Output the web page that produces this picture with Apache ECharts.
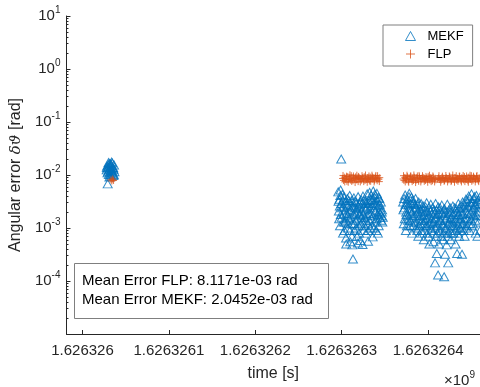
<!DOCTYPE html>
<html>
<head>
<meta charset="utf-8">
<script src="https://cdn.jsdelivr.net/npm/echarts@6/dist/echarts.min.js"></script>
<style>
  html, body { margin: 0; padding: 0; background: #fff; }
  #chart { width: 480px; height: 387px; }
</style>
</head>
<body>
<div id="chart"></div>
<script>
// time offset (s) from t0, angular error (rad)
const t0 = 1626326000
const xTicks = [0, 100, 200, 300, 400]
const yTicks = [1e-4, 1e-3, 1e-2, 1e-1, 1, 10]

const mekfSeg1 = [
  [28, 0.0125], [28.2, 0.0138], [28.5, 0.0148], [29, 0.011], [29.2, 0.0068], [29.5, 0.0135],
  [29.8, 0.0118], [30, 0.0158], [30.2, 0.0172], [30.5, 0.0102], [30.8, 0.0145], [31, 0.0128],
  [31.2, 0.0092], [31.5, 0.0165], [32, 0.0118], [32.2, 0.0105], [32.5, 0.0142], [32.8, 0.0162],
  [33, 0.0095], [33.2, 0.0132], [33.5, 0.0152], [33.8, 0.0175], [34, 0.0122], [34.2, 0.0112],
  [34.5, 0.0168], [34.8, 0.0135], [35, 0.0108], [35.5, 0.0138], [35.8, 0.0098], [36, 0.0128],
  [36.2, 0.0102], [36.5, 0.0155], [37, 0.0115]
]
const mekfSeg2 = [
  [296, 0.0048], [296.7, 0.0021], [297.4, 0.0035], [298, 0.0011], [298.7, 0.0052], [299.4, 0.020],
  [299.5, 0.0029], [300.1, 0.0016], [300.8, 0.0043], [301.5, 0.0008], [302.2, 0.0025], [302.9, 0.0038],
  [303.6, 0.0013], [304.3, 0.0031], [305, 0.00065], [305.2, 0.0005], [305.7, 0.0019], [306.4, 0.0036],
  [307.1, 0.0010], [307.8, 0.0027], [308.5, 0.0015], [309.2, 0.0041], [309.9, 0.00055], [310.6, 0.0022],
  [311.3, 0.0033], [312, 0.0012], [312.2, 0.00048], [312.7, 0.0026], [313, 0.00026], [313.4, 0.0018],
  [314.1, 0.0037], [314.8, 0.0009], [315.5, 0.0024], [316.2, 0.0014], [316.9, 0.0030], [317.6, 0.0007],
  [318.3, 0.0020], [318.8, 0.00052], [319, 0.0039], [319.7, 0.0011], [320.4, 0.0028], [321.1, 0.0017],
  [321.8, 0.00058], [322.5, 0.0034], [323.2, 0.0021], [323.9, 0.0013], [324.1, 0.00049], [324.6, 0.0040],
  [325.3, 0.0009], [326, 0.0026], [326.7, 0.0016], [327.4, 0.0032], [328.1, 0.0008], [328.8, 0.0023],
  [329.5, 0.0044], [330.2, 0.0012], [330.5, 0.00056], [330.9, 0.0029], [331.6, 0.0019], [332.3, 0.0047],
  [333, 0.0010], [333.7, 0.0035], [334.4, 0.0015], [335.1, 0.0027], [335.8, 0.00068], [336.5, 0.0050],
  [337.2, 0.0022], [337.9, 0.0038], [338.6, 0.0013], [339.3, 0.0031], [340, 0.0009], [340.7, 0.0045],
  [341.4, 0.0018], [342.1, 0.0026], [342.8, 0.0011], [343.5, 0.0036], [344.2, 0.0016], [344.9, 0.0024],
  [345.6, 0.0014], [346.3, 0.0020], [347, 0.0013]
]
const mekfSeg2b = [
  [296.3, 0.0032], [297, 0.0015], [297.8, 0.0026], [298.4, 0.0041], [299, 0.0018], [300.4, 0.0024],
  [301.2, 0.0033], [301.9, 0.0013], [302.6, 0.0019], [303.2, 0.0009], [304, 0.0022], [304.7, 0.0014],
  [306, 0.0028], [306.8, 0.0017], [307.5, 0.0012], [308.2, 0.0033], [308.9, 0.0021], [309.6, 0.0009],
  [310.3, 0.0016], [311, 0.0027], [311.7, 0.0007], [313.8, 0.0025], [314.5, 0.0012], [315.2, 0.0032],
  [315.9, 0.0019], [316.6, 0.0010], [317.3, 0.0023], [318, 0.0015], [319.4, 0.0025], [320.1, 0.0008],
  [320.8, 0.0019], [321.5, 0.0031], [322.2, 0.0012], [322.9, 0.0016], [323.6, 0.0029], [324.9, 0.0018],
  [325.7, 0.0033], [326.4, 0.0011], [327.1, 0.0022], [327.8, 0.0014], [328.5, 0.0030], [329.2, 0.0017],
  [329.9, 0.0025], [330.7, 0.0009], [331.3, 0.0033], [332, 0.0014], [332.7, 0.0024], [333.4, 0.0019],
  [334.1, 0.0041], [334.8, 0.0011], [335.5, 0.0034], [336.2, 0.0017], [336.9, 0.0029], [337.6, 0.0010],
  [338.3, 0.0043], [339, 0.0021], [339.7, 0.0027], [340.4, 0.0015], [341.1, 0.0033], [341.8, 0.0008],
  [342.5, 0.0038], [343.2, 0.0020], [343.9, 0.0028], [344.6, 0.0019], [345.3, 0.0031], [346, 0.0017],
  [346.7, 0.0022], [347.5, 0.0016]
]
const mekfSeg3 = [
  [371, 0.0031], [371.8, 0.0012], [372.6, 0.0024], [373.4, 0.0042], [374.2, 0.0009], [375, 0.0018],
  [375.8, 0.0035], [376.6, 0.0014], [377.4, 0.0027], [378.2, 0.0045], [379, 0.0011], [379.8, 0.0021],
  [380.6, 0.0038], [381.4, 0.0008], [382.2, 0.0016], [383, 0.0030], [383.8, 0.0013], [384.6, 0.0025],
  [385.4, 0.0036], [386.2, 0.0010], [387, 0.0019], [387.8, 0.0028], [388.6, 0.0007], [389.4, 0.0015],
  [390.2, 0.0023], [391, 0.0012], [391.8, 0.0029], [392.6, 0.0009], [393.4, 0.0017], [394.2, 0.0026],
  [395, 0.0006], [395.8, 0.0014], [396.6, 0.0021], [397.4, 0.0011], [398.2, 0.0030], [399, 0.0008],
  [399.8, 0.0016], [400.6, 0.0024], [401.4, 0.0005], [402.2, 0.0013], [403, 0.0028], [403.8, 0.0009],
  [404.6, 0.0019], [405.4, 0.0012], [406.2, 0.00055], [407, 0.0022], [407.8, 0.0015], [408, 0.00022],
  [408.6, 0.0029], [409.4, 0.0007], [410, 0.00033], [410.2, 0.0018], [411, 0.0011], [411.5, 0.00013],
  [411.8, 0.0025], [412.6, 0.0005], [413.4, 0.0014], [414.2, 0.0020], [415, 0.0009], [415.8, 0.0027],
  [416.6, 0.0012], [417.4, 0.0006], [418.2, 0.0017], [418.5, 0.00012], [419, 0.0023], [419.6, 0.00032],
  [419.8, 0.0010], [420.6, 0.0015], [421.4, 0.00048], [422.2, 0.0028], [423, 0.0008], [423.2, 0.00022],
  [423.8, 0.0019], [424.6, 0.0013], [425.4, 0.0024], [426.2, 0.0006], [427, 0.0016], [427.8, 0.0011],
  [428.6, 0.0026], [429.4, 0.0008], [430.2, 0.0020], [431, 0.0014], [431.8, 0.0005], [432.6, 0.0023],
  [433.4, 0.0010], [433.5, 0.00033], [434.2, 0.0017], [435, 0.0029], [435.8, 0.0007], [436.6, 0.0013],
  [437.4, 0.0021], [438.2, 0.0009], [439, 0.0018], [439.2, 0.00032], [439.8, 0.0031], [440.6, 0.0012],
  [441.4, 0.0024], [442.2, 0.0007], [443, 0.0016], [443.8, 0.0035], [444.6, 0.0011], [445.4, 0.0026],
  [446.2, 0.0019], [447, 0.0040], [447.8, 0.0009], [448.6, 0.0030], [449.4, 0.0015], [450.2, 0.0044],
  [451, 0.0022], [451.8, 0.0012], [452.6, 0.0036], [453.4, 0.0017], [454.2, 0.0028], [455, 0.0008],
  [455.8, 0.0041], [456.6, 0.0020], [457, 0.0007], [457.4, 0.0032], [458.2, 0.0013], [459, 0.0025],
  [459.8, 0.0038], [460, 0.0009]
]
const mekfSeg3b = [
  [371.4, 0.0022], [372.2, 0.0036], [373, 0.0015], [373.8, 0.0028], [374.6, 0.0020], [375.4, 0.0011],
  [376.2, 0.0030], [377, 0.0017], [377.8, 0.0039], [378.6, 0.0023], [379.4, 0.0014], [380.2, 0.0029],
  [381, 0.0019], [381.8, 0.0033], [382.6, 0.0011], [383.4, 0.0022], [384.2, 0.0017], [385, 0.0028],
  [385.8, 0.0013], [386.6, 0.0024], [387.4, 0.0009], [388.2, 0.0020], [389, 0.0031], [389.8, 0.0011],
  [390.6, 0.0017], [391.4, 0.0021], [392.2, 0.0014], [393, 0.0008], [393.8, 0.0022], [394.6, 0.0012],
  [395.4, 0.0018], [396.2, 0.0009], [397, 0.0025], [397.8, 0.0015], [398.6, 0.0011], [399.4, 0.0020],
  [400.2, 0.0007], [401, 0.0017], [401.8, 0.0012], [402.6, 0.0021], [403.4, 0.0010], [404.2, 0.0015],
  [405, 0.0024], [405.8, 0.0008], [406.6, 0.0013], [407.4, 0.0019], [408.2, 0.0010], [409, 0.0016],
  [409.8, 0.0022], [410.6, 0.0008], [411.4, 0.0013], [412.2, 0.0019], [413, 0.0009], [413.8, 0.0024],
  [414.6, 0.0014], [415.4, 0.0007], [416.2, 0.0019], [417, 0.0011], [417.8, 0.0022], [418.6, 0.0008],
  [419.4, 0.0014], [420.2, 0.0020], [421, 0.0010], [421.8, 0.0016], [422.6, 0.0007], [423.4, 0.0012],
  [424.2, 0.0022], [425, 0.0009], [425.8, 0.0015], [426.6, 0.0020], [427.4, 0.0008], [428.2, 0.0013],
  [429, 0.0018], [429.8, 0.0011], [430.6, 0.0024], [431.4, 0.0009], [432.2, 0.0015], [433, 0.0020],
  [433.8, 0.0012], [434.6, 0.0008], [435.4, 0.0018], [436.2, 0.0024], [437, 0.0010], [437.8, 0.0015],
  [438.6, 0.0026], [439.4, 0.0012], [440.2, 0.0019], [441, 0.0009], [441.8, 0.0028], [442.6, 0.0014],
  [443.4, 0.0021], [444.2, 0.0010], [445, 0.0032], [445.8, 0.0015], [446.6, 0.0024], [447.4, 0.0012],
  [448.2, 0.0036], [449, 0.0019], [449.8, 0.0027], [450.6, 0.0011], [451.4, 0.0031], [452.2, 0.0018],
  [453, 0.0024], [453.8, 0.0039], [454.6, 0.0014], [455.4, 0.0027], [456.2, 0.0017], [457.8, 0.0034],
  [458.6, 0.0021], [459.4, 0.0029]
]

const flpSeg1 = [[33, 0.0081], [34, 0.0077], [35, 0.0084], [36, 0.0079]]
const flpSeg2 = [
  [301, 0.0086], [302, 0.0079], [303, 0.0091], [304, 0.0083], [305, 0.0088], [306, 0.0076],
  [307, 0.0094], [308, 0.0082], [309, 0.0087], [310, 0.0080], [311, 0.0097], [312, 0.0084],
  [313, 0.0078], [314, 0.0089], [315, 0.0085], [316, 0.0092], [317, 0.0081], [318, 0.0087],
  [319, 0.0075], [320, 0.0090], [321, 0.0083], [322, 0.0086], [323, 0.0080], [324, 0.0088],
  [325, 0.0084], [326, 0.0093], [327, 0.0079], [328, 0.0086], [329, 0.0082], [330, 0.0089],
  [331, 0.0084], [332, 0.0077], [333, 0.0091], [334, 0.0085], [335, 0.0099], [336, 0.0083],
  [337, 0.0088], [338, 0.0080], [339, 0.0092], [340, 0.0085], [341, 0.0078], [342, 0.0087],
  [343, 0.0083], [344, 0.0089],
  [301.5, 0.0098], [303.5, 0.0074], [305.5, 0.0095], [307.5, 0.0073], [309.5, 0.0101], [311.5, 0.0076],
  [313.5, 0.0096], [315.5, 0.0072], [317.5, 0.0099], [319.5, 0.0094], [321.5, 0.0074], [323.5, 0.0097],
  [325.5, 0.0075], [327.5, 0.0100], [329.5, 0.0073], [331.5, 0.0096], [333.5, 0.0076], [335.5, 0.0092],
  [337.5, 0.0074], [339.5, 0.0098], [341.5, 0.0097], [343.5, 0.0075]
]
const flpSeg3 = [
  [371, 0.0084], [372, 0.0079], [373, 0.0090], [374, 0.0086], [375, 0.0081], [376, 0.0093],
  [377, 0.0077], [378, 0.0088], [379, 0.0083], [380, 0.0096], [381, 0.0082], [382, 0.0087],
  [383, 0.0079], [384, 0.0091], [385, 0.0085], [386, 0.0080], [387, 0.0089], [388, 0.0084],
  [389, 0.0076], [390, 0.0092], [391, 0.0086], [392, 0.0081], [393, 0.0088], [394, 0.0083],
  [395, 0.0090], [396, 0.0085], [397, 0.0079], [398, 0.0087], [399, 0.0082], [400, 0.0094],
  [401, 0.0084], [402, 0.0080], [403, 0.0089], [404, 0.0086], [405, 0.0078], [406, 0.0091],
  [407, 0.0083], [408, 0.0087], [409, 0.0081], [411, 0.0085], [412, 0.0088], [413, 0.0082],
  [414, 0.0086], [415, 0.0080], [416, 0.0090], [417, 0.0084], [418, 0.0087], [419, 0.0079],
  [420, 0.0085], [421, 0.0089], [422, 0.0083], [423, 0.0086], [424, 0.0081], [425, 0.0092],
  [426, 0.0084], [427, 0.0078], [428, 0.0088], [429, 0.0085], [430, 0.0082], [431, 0.0090],
  [432, 0.0086], [433, 0.0080], [434, 0.0087], [435, 0.0083], [436, 0.0095], [437, 0.0084],
  [438, 0.0079], [439, 0.0089], [440, 0.0085], [441, 0.0081], [442, 0.0093], [443, 0.0086],
  [444, 0.0082], [445, 0.0088], [446, 0.0078], [447, 0.0091], [448, 0.0085], [449, 0.0083],
  [450, 0.0097], [451, 0.0084], [452, 0.0080], [453, 0.0090], [454, 0.0086], [455, 0.0082],
  [456, 0.0094], [457, 0.0085], [458, 0.0079], [459, 0.0089], [460, 0.0084],
  [371.5, 0.0097], [373.5, 0.0074], [375.5, 0.0099], [377.5, 0.0073], [379.5, 0.0095], [381.5, 0.0075],
  [383.5, 0.0100], [385.5, 0.0072], [387.5, 0.0096], [389.5, 0.0098], [391.5, 0.0074], [393.5, 0.0097],
  [395.5, 0.0076], [397.5, 0.0094], [399.5, 0.0073], [401.5, 0.0099], [403.5, 0.0075], [405.5, 0.0096],
  [407.5, 0.0074], [412.5, 0.0097], [414.5, 0.0073], [416.5, 0.0095], [418.5, 0.0076], [420.5, 0.0098],
  [422.5, 0.0074], [424.5, 0.0096], [426.5, 0.0075], [428.5, 0.0100], [430.5, 0.0073], [432.5, 0.0097],
  [434.5, 0.0076], [436.5, 0.0095], [438.5, 0.0074], [440.5, 0.0098], [442.5, 0.0075], [444.5, 0.0096],
  [446.5, 0.0073], [448.5, 0.0099], [450.5, 0.0076], [452.5, 0.0095], [454.5, 0.0074], [456.5, 0.0098],
  [458.5, 0.0075]
]

const meanText = [
  'Mean Error FLP: 8.1171e-03 rad',
  'Mean Error MEKF: 2.0452e-03 rad'
]

// minor log ticks 2..9 per decade
let yMinor = []
for (let e = -5; e < 1; e++) {
  for (let k = 2; k <= 9; k++) yMinor.push(k * Math.pow(10, e))
}

const AX = '#262626'
const FONT = 'Liberation Sans'
const PLUS = 'path://M0,5 L10,5 M5,0 L5,10'

let myChart = echarts.init(document.getElementById('chart'))

let option = {
  animation: false,
  grid: { left: 66, right: 0, top: 16, bottom: 51 },
  legend: {
    orient: 'vertical',
    left: 383,
    top: 25,
    padding: [4, 9, 5, 20],
    itemGap: 4,
    itemWidth: 10,
    itemHeight: 9,
    borderColor: '#7f7f7f',
    borderWidth: 1,
    borderRadius: 0,
    backgroundColor: '#fff',
    textStyle: { fontFamily: FONT, fontSize: 13, color: '#000', padding: [0, 0, 0, 7] },
    data: [
      { name: 'MEKF', icon: 'triangle', itemStyle: { color: 'none', borderColor: '#0072BD', borderWidth: 1 } },
      { name: 'FLP', icon: PLUS, itemStyle: { color: 'none', borderColor: '#D95319', borderWidth: 1 } }
    ]
  },
  xAxis: {
    type: 'value',
    min: -18.5,
    max: 460,
    name: 'time [s]',
    nameLocation: 'middle',
    nameGap: 32,
    nameTextStyle: { fontFamily: FONT, fontSize: 16, color: AX },
    axisLine: { onZero: false, lineStyle: { color: AX, width: 1 } },
    axisTick: { inside: true, length: 4, customValues: xTicks, lineStyle: { color: AX } },
    axisLabel: {
      customValues: xTicks,
      margin: 9,
      fontFamily: FONT, fontSize: 15, color: AX,
      formatter: v => ((t0 + v) / 1e9).toFixed(7).replace(/0+$/, '')
    },
    splitLine: { show: false }
  },
  yAxis: [{
    type: 'log',
    min: 1e-5,
    max: 10,
    name: '{n|Angular error }{g|δϑ}{n| [rad]}',
    nameLocation: 'middle',
    nameGap: 40,
    nameTextStyle: {
      rich: {
        n: { fontFamily: FONT, fontSize: 16, color: AX },
        g: { fontFamily: 'DejaVu Serif', fontStyle: 'italic', fontSize: 15, color: AX }
      }
    },
    axisLine: { show: true, onZero: false, lineStyle: { color: AX, width: 1 } },
    axisTick: { inside: true, length: 4, customValues: yTicks, lineStyle: { color: AX } },
    axisLabel: {
      customValues: yTicks,
      margin: 6,
      formatter: v => '{b|10}{s|' + Math.round(Math.log10(v)) + '}',
      rich: {
        b: { fontFamily: FONT, fontSize: 15, color: AX },
        s: { fontFamily: FONT, fontSize: 10, color: AX, padding: [0, 0, 12, 0] }
      }
    },
    splitLine: { show: false }
  }, {
    type: 'log',
    min: 1e-5,
    max: 10,
    position: 'left',
    axisLine: { show: false, onZero: false },
    axisTick: { inside: true, length: 2, customValues: yMinor, lineStyle: { color: AX } },
    axisLabel: { show: false },
    splitLine: { show: false }
  }],
  series: [{
    name: 'MEKF',
    type: 'scatter',
    symbol: 'triangle',
    symbolSize: [9, 8],
    itemStyle: { color: 'none', borderColor: '#0072BD', borderWidth: 1 },
    data: mekfSeg1.concat(mekfSeg2, mekfSeg2b, mekfSeg3, mekfSeg3b)
  }, {
    name: 'FLP',
    type: 'scatter',
    symbol: PLUS,
    symbolSize: 7,
    itemStyle: { color: 'none', borderColor: '#D95319', borderWidth: 1 },
    data: flpSeg1.concat(flpSeg2, flpSeg3)
  }],
  graphic: [{
    type: 'rect',
    shape: { x: 74.5, y: 263.5, width: 254, height: 55 },
    style: { fill: '#fff', stroke: '#7f7f7f', lineWidth: 1 },
    z: 100
  }, {
    type: 'text',
    x: 82, y: 281,
    style: { text: meanText[0], fontFamily: FONT, fontSize: 15, fill: '#000', verticalAlign: 'middle' },
    z: 101
  }, {
    type: 'text',
    x: 82, y: 300,
    style: { text: meanText[1], fontFamily: FONT, fontSize: 15, fill: '#000', verticalAlign: 'middle' },
    z: 101
  }, {
    type: 'text',
    x: 444, y: 370,
    style: {
      text: '{m|×10}{s|9}',
      rich: {
        m: { fontFamily: FONT, fontSize: 15, fill: AX, color: AX },
        s: { fontFamily: FONT, fontSize: 10, fill: AX, color: AX, padding: [0, 0, 12, 0] }
      }
    },
    z: 101
  }]
}

myChart.setOption(option)
</script>
</body>
</html>
